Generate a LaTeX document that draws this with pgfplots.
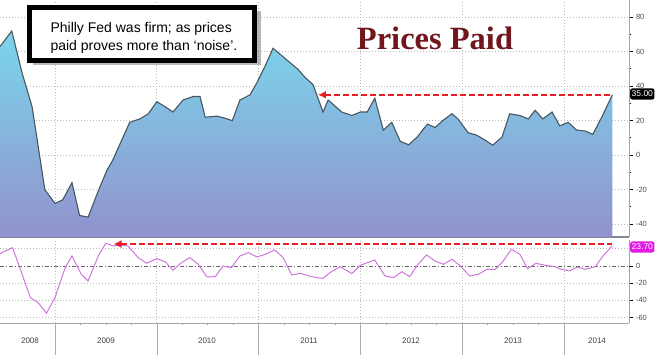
\documentclass[border=0pt]{standalone}
\usepackage{pgfplots}
\pgfplotsset{compat=1.18}
\usepackage{pgfplotstable}
\usepackage{fontspec}
\setmainfont{Liberation Sans}
\newfontfamily\titlefont{Liberation Serif}
\usetikzlibrary{arrows.meta}
\definecolor{topc}{RGB}{122,214,236}
\definecolor{botc}{RGB}{146,146,206}
\definecolor{linec}{RGB}{72,86,96}
\definecolor{pinkc}{RGB}{208,118,222}
\definecolor{redc}{RGB}{232,30,36}
\definecolor{magc}{RGB}{226,28,228}
\definecolor{titlec}{RGB}{112,22,28}
\definecolor{gridc}{RGB}{185,185,185}
\definecolor{sepc}{RGB}{135,135,148}

\pgfplotstableread{
m v
5.52 63
6.9 72
8.1 48
9.3 28
10.8 -20
12.0 -28
12.9 -26
14.0 -16
14.9 -35
15.9 -36
17.0 -22
18.1 -9
18.8 -3
19.8 8
20.8 19
22.0 21
23.0 24
24.0 31
25.0 28
25.9 25
27.1 32
28.3 34
29.1 34
29.7 22
31.1 22.6
32.0 21.5
32.9 20
33.8 32
35.0 35
35.8 42
36.8 52
37.7 62
38.9 57
40.1 52
40.6 50
41.5 45
42.4 41
43.6 25
44.2 32
45.8 25
47.0 23
48.0 25
48.8 25
49.7 33
50.7 14.5
51.7 19
52.7 8
53.7 6
54.7 10.5
55.9 18
56.8 16
57.7 20
58.8 24
59.5 21
60.7 13
61.7 11.6
62.7 8.7
63.6 5.8
64.7 10.5
65.6 24
66.8 23
67.8 21
68.6 26
69.5 21
70.6 25
71.5 17
72.5 19
73.5 14.5
74.5 14
75.4 12
76.6 23.5
77.7 35
}\toptab

\pgfplotstableread{
m v
5.52 14
5.9 16.3
7.0 21.3
9.1 -36.8
10.0 -42.6
11.0 -55
12.0 -36.8
13.2 -2
14.0 11.6
15.1 -9.7
15.9 -17.4
17.1 11.6
18.0 26.4
18.9 23.3
19.8 24
20.6 23.3
21.8 9.7
22.8 3.1
24.0 8.5
25.0 4.8
25.9 -5
26.9 3.9
27.9 9.7
28.9 1.9
29.9 -12.8
30.9 -12.4
31.8 0
32.8 -1.9
33.8 11.6
34.8 15.5
35.8 10.5
36.8 13.6
37.9 18.6
38.9 9.7
39.9 -10.5
40.9 -8.5
41.9 -11.6
42.9 -13.6
43.6 -14.3
44.4 -7.8
45.6 -0.8
47.0 -8.9
48.0 0.8
49.7 7
50.9 -11.6
51.9 -13.6
52.9 -6.6
53.8 -12.4
54.8 1.9
55.8 12.8
56.8 5.8
57.8 1.9
58.8 7.8
59.7 0.8
60.9 -11.6
61.9 -9.7
62.9 -3.9
63.9 -4
64.7 3.9
65.8 19.4
66.8 13.6
67.7 -3.1
68.7 3.1
69.8 0.8
70.9 -0.8
71.7 -3.9
72.6 -5.8
73.6 -1.2
74.5 -3.9
75.7 -0.8
76.6 11.6
77.7 23.7
}\bottab

\pgfplotsset{
  common/.style={
    scale only axis, width=629pt, xmin=5.516, xmax=79.666, anchor=south west,
    axis y line*=right, axis x line*=bottom, axis line style={-},
    y axis line style={draw=gray!70, line width=0.6pt},
    xtick={12,24,36,48,60,72}, xticklabels={},
    grid=major,
    major grid style={gridc, line width=0.7pt, dash pattern=on 1pt off 2pt},
    tick align=outside, major tick length=3.5pt, minor tick length=2pt,
    ytick style={black, line width=0.9pt}, minor y tick num=1,
    yticklabel style={font=\fontsize{7.5}{8}\selectfont, text=black!70},
    /pgf/number format/assume math mode=true,
  },
}

\begin{document}
\begin{tikzpicture}
\useasboundingbox (0pt,0pt) rectangle (659pt,355pt);

% top panel
\begin{axis}[common, at={(0pt,118pt)}, height=237pt, ymin=-47.5, ymax=90,
  ytick={-40,-20,0,20,40,60,80},
  xtick style={draw=none},
  x axis line style={draw=sepc, line width=2.6pt}]
\addplot[draw=none, top color=topc, bottom color=botc] table[x=m,y=v]{\toptab}
  -- (axis cs:77.7,-47.5) -- (axis cs:5.52,-47.5) -- cycle;
\addplot[linec, line width=1.1pt, mark=none] table[x=m,y=v]{\toptab};
\addplot[redc, line width=1.8pt, dash pattern=on 6pt off 3pt, mark=none,
  {Latex[length=8pt,width=8pt]}-] coordinates {(43.0,35) (77.7,35)};
\end{axis}

% bottom panel
\begin{axis}[common, at={(0pt,32pt)}, height=83pt, ymin=-66.3, ymax=30.2,
  ytick={-60,-40,-20,20}, yticklabels={-60,-40,-20,{}}, extra y ticks={0},
  extra y tick style={major grid style={draw=gray!80!black, line width=0.7pt,
    dash pattern=on 4pt off 2pt on 1pt off 2pt}},
  minor x tick num=3,
  xtick style={gray!80, line width=0.5pt},
  x axis line style={draw=gray!70, line width=0.8pt}]
\addplot[pinkc, line width=1.0pt, mark=none] table[x=m,y=v]{\bottab};
\addplot[redc, line width=1.8pt, dash pattern=on 6pt off 3pt, mark=none,
  {Latex[length=8pt,width=8pt]}-] coordinates {(18.9,25.5) (77.7,25.5)};
\end{axis}

% year separators and labels
\foreach \px in {55,157,258,360,462,564}
  \draw[gray!65, line width=0.6pt] (\px pt,32pt) -- (\px pt,0pt);
\foreach \px/\yr in {30/2008,106/2009,207/2010,309/2011,411/2012,513/2013,597/2014}
  \node[anchor=base, font=\fontsize{8}{9}\selectfont, text=black!75] at (\px pt,11pt) {\yr};

% value tags
\node[fill=black, text=white, rounded corners=2pt, inner xsep=1.5pt, inner ysep=2.5pt,
  font=\fontsize{8.5}{9}\selectfont, anchor=west] at (630pt,261pt) {35.00};
\node[fill=magc, text=white, rounded corners=2pt, inner xsep=1.5pt, inner ysep=2.5pt,
  font=\fontsize{8.5}{9}\selectfont, anchor=west] at (630pt,108pt) {23.70};

% title
\node[anchor=base, text=titlec, font=\titlefont\bfseries\fontsize{32.5}{34}\selectfont]
  at (435pt,305pt) {Prices Paid};

% annotation box
\fill[gray, opacity=0.55] (33pt,290pt) rectangle (261pt,344pt);
\draw[black, line width=5pt, fill=white] (29.5pt,294.5pt) rectangle (254.5pt,347.5pt);
\node[anchor=base west, font=\fontsize{14}{16}\selectfont] at (47pt,322pt) {Philly Fed was firm; as prices};
\node[anchor=base west, font=\fontsize{14}{16}\selectfont] at (47pt,304pt) {paid proves more than ‘noise’.};
\end{tikzpicture}
\end{document}
